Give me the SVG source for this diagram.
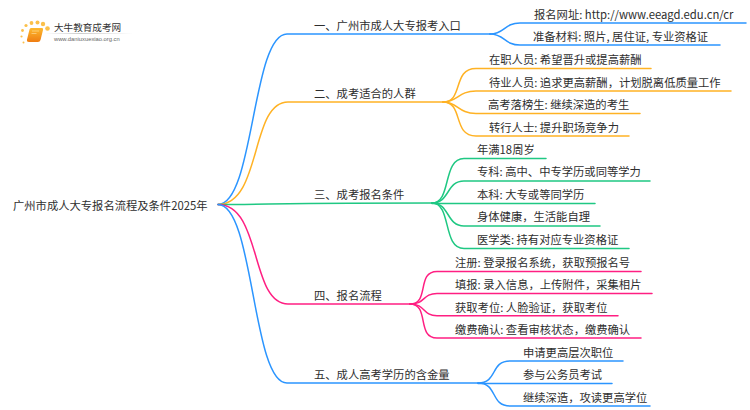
<svg xmlns="http://www.w3.org/2000/svg" width="750" height="410" viewBox="0 0 750 410">
<style>
text{font-family:"Noto Sans CJK SC","Liberation Sans",sans-serif;font-size:11.3px;fill:#2e2e2e}
#connectors path{fill:none;stroke-width:1.5;stroke-linecap:round}
.b{stroke:#2b95ff}.o{stroke:#ffb224}.g{stroke:#1fc883}.p{stroke:#ff1f82}
</style>
<defs><linearGradient id="fade"><stop offset="0" stop-color="#ccc" stop-opacity="0"/><stop offset=".4" stop-color="#ccc"/><stop offset="1" stop-color="#ccc" stop-opacity="0"/></linearGradient>
<linearGradient id="book" x1="0" y1="0" x2="0" y2="1"><stop offset="0" stop-color="#fdb92e"/><stop offset="1" stop-color="#ef7d12"/></linearGradient></defs>
<rect width="750" height="410" fill="#fff"/>
<g id="logo">
<g fill="#fbc04a"><circle cx="47.500" cy="28.500" r="2.300"/><circle cx="43" cy="24" r="2.200"/><circle cx="37.500" cy="22.500" r="2"/><circle cx="31.500" cy="23" r="1.900"/><circle cx="26" cy="25.500" r="1.600"/><circle cx="22.500" cy="30.500" r="1.400"/><circle cx="21.500" cy="36.500" r="1.100"/><circle cx="23.500" cy="42.500" r="1"/></g>
<path d="M31 28h11q1.500 0 1 2l-2.500 10q-.5 2-2.500 2H29q-2.500 0-2-2.500l2.500-10q.3-1.500 1.500-1.500z" fill="url(#book)"/>
<path d="M32 31h7M31.500 33.500h5" stroke="#ffe3a6" stroke-width=".6" fill="none"/>
<rect x="45" y="33" width="88" height="1" fill="url(#fade)"/>
<text x="54" y="31" style="font-size:9.6px;fill:#333">大牛教育成考网</text>
<text x="54" y="41" style="font-size:5.8px;fill:#666;font-family:'Liberation Sans',sans-serif">www.daniuxuexiao.org.cn</text>
</g>
<g id="connectors">
<path class="b" d="M218 204.500C254 204.500 252 34 287 34H490"/>
<path class="o" d="M218 204.500C262 204.500 250 102 288 102H443"/>
<path class="g" d="M218 204.500C262 204.500 300 203 432 203"/>
<path class="p" d="M218 204.500C262 204.500 250 304 288 304H410"/>
<path class="b" d="M218 204.500C254 204.500 252 383 287 383H478"/>
<path class="b" d="M490 34C505 34 504 23 520 23H746"/><path class="b" d="M490 34C505 34 504 45 520 45H720"/>
<path class="o" d="M443 102C464 102 452 68.500 476 68.500H651"/><path class="o" d="M443 102C458 102 458 91 476 91H731"/><path class="o" d="M443 102C458 102 458 113.500 476 113.500H640"/><path class="o" d="M443 102C464 102 452 136 476 136H629"/>
<path class="g" d="M432 203C452 203 442 158.500 464 158.500H546"/><path class="g" d="M432 203C450 203 446 181 464 181H650"/><path class="g" d="M432 203.500H595"/><path class="g" d="M432 203C450 203 446 226 464 226H600"/><path class="g" d="M432 203C452 203 442 248.500 464 248.500H629"/>
<path class="p" d="M410 304C430 304 416 271.500 437 271.500H641"/><path class="p" d="M410 304C426 304 422 293.500 437 293.500H652"/><path class="p" d="M410 304C426 304 422 315.700 437 315.700H618"/><path class="p" d="M410 304C430 304 416 338 437 338H641"/>
<path class="b" d="M478 383C498 383 490 361 510 361H623"/><path class="b" d="M478 383.500H612"/><path class="b" d="M478 383C498 383 490 406 510 406H650"/>
</g>
<g id="root"><text x="13" y="210">广州市成人大专报名流程及条件2025年</text></g>
<g id="n1"><text x="314" y="30">一、广州市成人大专报考入口</text></g>
<g id="n1-1"><text x="534" y="19">报名网址: http://www.eeagd.edu.cn/cr</text></g>
<g id="n1-2"><text x="533" y="41">准备材料: 照片, 居住证, 专业资格证</text></g>
<g id="n2"><text x="314" y="98">二、成考适合的人群</text></g>
<g id="n2-1"><text x="489" y="64">在职人员: 希望晋升或提高薪酬</text></g>
<g id="n2-2"><text x="489" y="87">待业人员: 追求更高薪酬，计划脱离低质量工作</text></g>
<g id="n2-3"><text x="488" y="109">高考落榜生: 继续深造的考生</text></g>
<g id="n2-4"><text x="489" y="132">转行人士: 提升职场竞争力</text></g>
<g id="n3"><text x="314" y="199">三、成考报名条件</text></g>
<g id="n3-1"><text x="477" y="154">年满18周岁</text></g>
<g id="n3-2"><text x="477" y="176">专科: 高中、中专学历或同等学力</text></g>
<g id="n3-3"><text x="477" y="199">本科: 大专或等同学历</text></g>
<g id="n3-4"><text x="477" y="221">身体健康，生活能自理</text></g>
<g id="n3-5"><text x="477" y="244">医学类: 持有对应专业资格证</text></g>
<g id="n4"><text x="314" y="300">四、报名流程</text></g>
<g id="n4-1"><text x="455" y="267">注册: 登录报名系统，获取预报名号</text></g>
<g id="n4-2"><text x="455" y="289">填报: 录入信息，上传附件，采集相片</text></g>
<g id="n4-3"><text x="455" y="312">获取考位: 人脸验证，获取考位</text></g>
<g id="n4-4"><text x="455" y="334">缴费确认: 查看审核状态，缴费确认</text></g>
<g id="n5"><text x="314" y="379">五、成人高考学历的含金量</text></g>
<g id="n5-1"><text x="523" y="357">申请更高层次职位</text></g>
<g id="n5-2"><text x="523" y="379">参与公务员考试</text></g>
<g id="n5-3"><text x="523" y="402">继续深造，攻读更高学位</text></g>
</svg>
